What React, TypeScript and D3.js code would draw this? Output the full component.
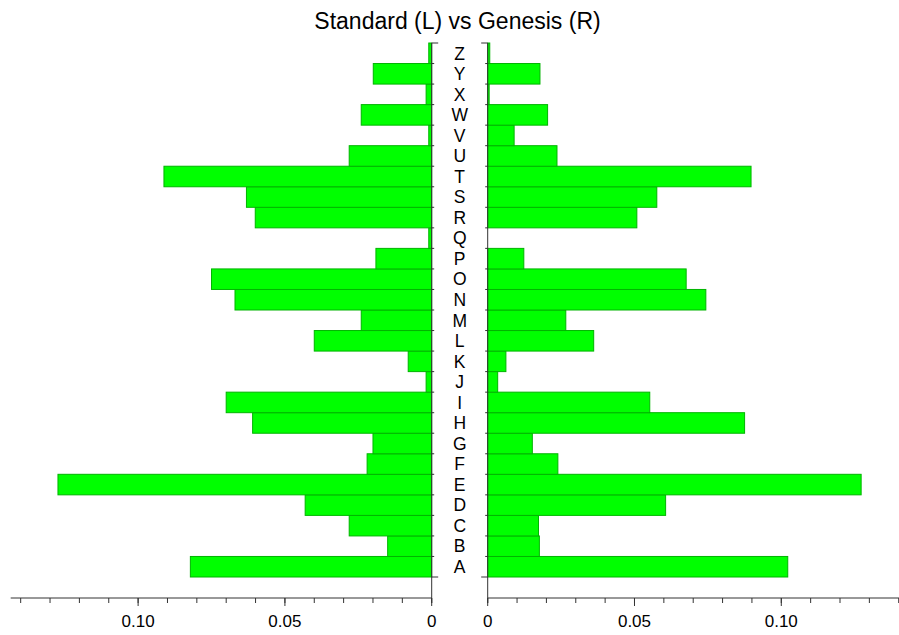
import React from "react";
import * as d3 from "d3";

const categories = ["A","B","C","D","E","F","G","H","I","J","K","L","M","N","O","P","Q","R","S","T","U","V","W","X","Y","Z"];
const standardValues = [0.0822,0.015,0.0281,0.0431,0.1273,0.022,0.020,0.061,0.070,0.0019,0.008,0.040,0.024,0.067,0.075,0.019,0.001,0.0601,0.0631,0.0912,0.0281,0.001,0.024,0.0019,0.0199,0.001];
const genesisValues = [0.1022,0.0176,0.0173,0.0606,0.1272,0.0239,0.0152,0.0875,0.0552,0.0034,0.0062,0.0361,0.0266,0.0743,0.0676,0.0123,0,0.0508,0.0576,0.0897,0.0236,0.009,0.0204,0.0005,0.0178,0.0007];
const majorTicks = [0, 0.05, 0.1];
const minorTicks = d3.range(0, 15).map((i) => i / 100);
const tickLabels = ["0", "0.05", "0.10"];
const title = "Standard (L) vs Genesis (R)";

const W = 899, H = 635;
const FONT = "'Liberation Sans', Arial, sans-serif";
const AXIS = "#333";

export default function App() {
  const xL = d3.scaleLinear().domain([0, 0.1434]).range([431.7, 10.7]);
  const xR = d3.scaleLinear().domain([0, 0.1434]).range([487.7, 908.7]);
  const y = d3.scaleBand<string>().domain([...categories].reverse()).range([43, 577]).padding(0);
  const axisY = 598;
  const bw = y.bandwidth();
  const boundaries = d3.range(0, categories.length + 1).map((i) => 43 + i * bw);

  return (
    <svg width={W} height={H} style={{ position: "absolute", left: 0, top: 0, background: "#fff" }} fontFamily={FONT}>
      <text x={457.5} y={29} textAnchor="middle" fontSize={23} fill="#000">{title}</text>
      {/* bars */}
      {categories.map((c, i) => (
        <rect key={"l" + c} x={xL(standardValues[i])} y={y(c)} width={xL(0) - xL(standardValues[i])} height={bw}
          fill="#00ff00" stroke="#00b400" strokeWidth={1} />
      ))}
      {categories.map((c, i) => (
        <rect key={"r" + c} x={xR(0)} y={y(c)} width={xR(genesisValues[i]) - xR(0)} height={bw}
          fill="#00ff00" stroke="#00b400" strokeWidth={1} />
      ))}
      {/* category labels */}
      {categories.map((c) => (
        <text key={"t" + c} x={459.7} y={(y(c) as number) + bw / 2} dy="0.36em" textAnchor="middle" fontSize={17.5} fill="#000">{c}</text>
      ))}
      {/* vertical axes */}
      <line x1={xL(0)} x2={xL(0)} y1={43} y2={axisY + 5} stroke={AXIS} strokeWidth={1} />
      <line x1={xR(0)} x2={xR(0)} y1={43} y2={axisY + 5} stroke={AXIS} strokeWidth={1} />
      {boundaries.map((b, i) => {
        const end = i === 0 || i === boundaries.length - 1;
        const len = end ? 6.5 : 2.5;
        return (
          <g key={"yb" + i}>
            <line x1={xL(0)} x2={xL(0) + len} y1={b} y2={b} stroke={AXIS} strokeWidth={1} />
            <line x1={xR(0)} x2={xR(0) - len} y1={b} y2={b} stroke={AXIS} strokeWidth={1} />
          </g>
        );
      })}
      {/* horizontal axes */}
      <line x1={10.7} x2={xL(0)} y1={axisY} y2={axisY} stroke={AXIS} strokeWidth={1} />
      <line x1={xR(0)} x2={W} y1={axisY} y2={axisY} stroke={AXIS} strokeWidth={1} />
      {minorTicks.map((t) => (
        <g key={"mt" + t}>
          <line x1={xL(t)} x2={xL(t)} y1={axisY} y2={axisY + 5} stroke={AXIS} strokeWidth={1} />
          <line x1={xR(t)} x2={xR(t)} y1={axisY} y2={axisY + 5} stroke={AXIS} strokeWidth={1} />
        </g>
      ))}
      {majorTicks.map((t, i) => (
        <g key={"Mt" + t}>
          <line x1={xL(t)} x2={xL(t)} y1={axisY} y2={axisY + 8} stroke={AXIS} strokeWidth={1} />
          <line x1={xR(t)} x2={xR(t)} y1={axisY} y2={axisY + 8} stroke={AXIS} strokeWidth={1} />
          <text x={xL(t)} y={627} textAnchor="middle" fontSize={17} fill="#000">{tickLabels[i]}</text>
          <text x={xR(t)} y={627} textAnchor="middle" fontSize={17} fill="#000">{tickLabels[i]}</text>
        </g>
      ))}
    </svg>
  );
}
